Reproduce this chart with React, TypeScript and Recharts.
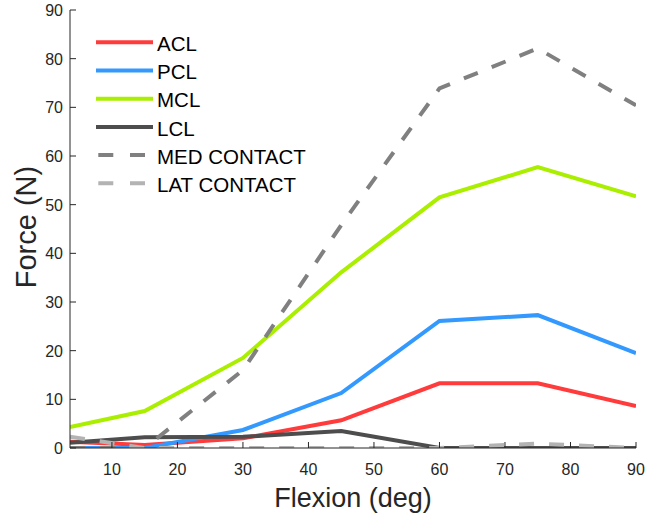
import { Legend, Line, LineChart, XAxis, YAxis } from "recharts";

// Knee flexion angles (deg)
const flexion = [3.6, 15, 30, 45, 60, 75, 90];

// Ligament and contact forces (N)
const acl = [1.3, 0.6, 2.0, 5.7, 13.3, 13.3, 8.6];
const pcl = [0, 0, 3.7, 11.3, 26.1, 27.3, 19.5];
const mcl = [4.3, 7.6, 18.5, 36.1, 51.5, 57.7, 51.7];
const lcl = [1.1, 2.2, 2.3, 3.5, 0, 0, 0];
const medContact = [0, 0, 16.0, 45.8, 73.9, 82.1, 70.4];
const latContact = [2.3, 0, 0, 0, 0, 0.9, 0];

const xTicks = [10, 20, 30, 40, 50, 60, 70, 80, 90];
const yTicks = [0, 10, 20, 30, 40, 50, 60, 70, 80, 90];

const series = [
  { key: "acl", name: "ACL", values: acl, color: "#ff3b3b", dashed: false },
  { key: "pcl", name: "PCL", values: pcl, color: "#3399ff", dashed: false },
  { key: "mcl", name: "MCL", values: mcl, color: "#aaee00", dashed: false },
  { key: "lcl", name: "LCL", values: lcl, color: "#4d4d4d", dashed: false },
  { key: "med", name: "MED CONTACT", values: medContact, color: "#808080", dashed: true },
  { key: "lat", name: "LAT CONTACT", values: latContact, color: "#b3b3b3", dashed: true },
];

const data = flexion.map((x, i) => {
  const row: Record<string, number> = { x };
  series.forEach((s) => (row[s.key] = s.values[i]));
  return row;
});

const FONT = "'Liberation Sans', Arial, Helvetica, sans-serif";
const AXIS = "#262626";
const TICK = 6;

const BottomTick = (props: any) => {
  const { x, y, payload } = props;
  return (
    <g>
      <line x1={x} y1={y} x2={x} y2={y - TICK} stroke={AXIS} />
      <text x={x} y={y + 27} textAnchor="middle" fontSize={16} fill={AXIS} fontFamily={FONT}>
        {payload.value}
      </text>
    </g>
  );
};

const TopTick = (props: any) => {
  const { x, y } = props;
  return <line x1={x} y1={y} x2={x} y2={y + TICK} stroke={AXIS} />;
};

const LeftTick = (props: any) => {
  const { x, y, payload } = props;
  return (
    <g>
      <line x1={x} y1={y} x2={x + TICK} y2={y} stroke={AXIS} />
      <text x={x - 7} y={y + 6} textAnchor="end" fontSize={16} fill={AXIS} fontFamily={FONT}>
        {payload.value}
      </text>
    </g>
  );
};

const RightTick = (props: any) => {
  const { x, y } = props;
  return <line x1={x} y1={y} x2={x - TICK} y2={y} stroke={AXIS} />;
};

const LegendBox = () => (
  <svg width={330} height={200} style={{ display: "block" }}>
    {series.map((s, i) => {
      const y = 42.3 + 28.2 * i;
      return (
        <g key={s.key}>
          {s.dashed ? (
            <line x1={98.3} y1={y} x2={146} y2={y} stroke={s.color} strokeWidth={4} strokeDasharray="15 16.7" />
          ) : (
            <line x1={96} y1={y} x2={153} y2={y} stroke={s.color} strokeWidth={4} />
          )}
          <text x={157} y={y + 8.6} fontSize={20.5} fill="#000" fontFamily={FONT}>
            {s.name}
          </text>
        </g>
      );
    })}
  </svg>
);

export default function App() {
  return (
    <div style={{ position: "absolute", left: 0, top: 0, width: 645, height: 517, background: "#fff" }}>
      <LineChart width={645} height={517} data={data} margin={{ top: 10, right: 9, left: 0, bottom: 0 }}>
        <XAxis
          dataKey="x"
          type="number"
          domain={[3.6, 90]}
          ticks={xTicks}
          allowDataOverflow
          height={69}
          tickSize={0}
          tickMargin={0}
          tickLine={false}
          axisLine={{ stroke: AXIS }}
          tick={BottomTick}
          interval={0}
          label={{
            value: "Flexion (deg)",
            position: "insideBottom",
            offset: 10,
            style: { fontSize: 27, fill: AXIS, fontFamily: FONT },
          }}
        />
        <XAxis
          xAxisId="top"
          orientation="top"
          dataKey="x"
          type="number"
          domain={[3.6, 90]}
          ticks={xTicks}
          allowDataOverflow
          height={0}
          tickSize={0}
          tickMargin={0}
          tickLine={false}
          axisLine={{ stroke: AXIS }}
          tick={TopTick}
          interval={0}
        />
        <YAxis
          type="number"
          domain={[0, 90]}
          ticks={yTicks}
          allowDataOverflow
          width={70}
          tickSize={0}
          tickMargin={0}
          tickLine={false}
          axisLine={{ stroke: AXIS }}
          tick={LeftTick}
          interval={0}
          label={() => (
            <text
              x={26}
              y={227}
              transform="rotate(-90 26 227)"
              textAnchor="middle"
              dominantBaseline="central"
              fontSize={29}
              fill={AXIS}
              fontFamily={FONT}
            >
              Force (N)
            </text>
          )}
        />
        <YAxis
          yAxisId="right"
          orientation="right"
          type="number"
          domain={[0, 90]}
          ticks={yTicks}
          allowDataOverflow
          width={0}
          tickSize={0}
          tickMargin={0}
          tickLine={false}
          axisLine={{ stroke: AXIS }}
          tick={RightTick}
          interval={0}
        />
        <Legend
          layout="vertical"
          align="center"
          verticalAlign="middle"
          wrapperStyle={{ left: 0, top: 0, width: 330, height: 200 }}
          content={LegendBox}
        />
        {series.map((s) => (
          <Line
            key={s.key}
            type="linear"
            dataKey={s.key}
            name={s.name}
            stroke={s.color}
            strokeWidth={4}
            strokeDasharray={s.dashed ? "15 15" : undefined}
            dot={false}
            activeDot={false}
            isAnimationActive={false}
          />
        ))}
      </LineChart>
    </div>
  );
}
